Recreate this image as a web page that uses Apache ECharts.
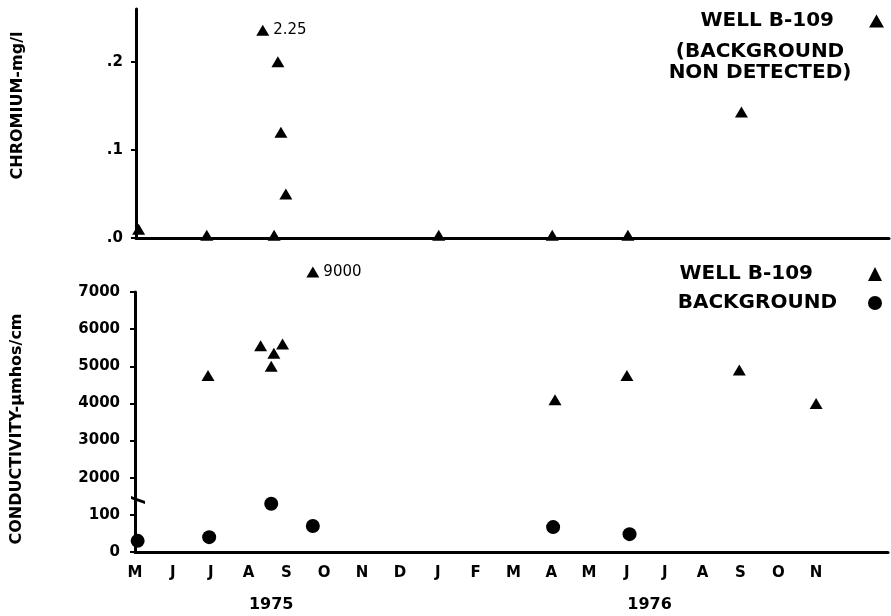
<!DOCTYPE html>
<html>
<head>
<meta charset="utf-8">
<title>Well B-109 chromium and conductivity</title>
<script src="https://cdn.jsdelivr.net/npm/echarts@6/dist/echarts.min.js"></script>
<style>
  html, body { margin: 0; padding: 0; background: #fff; }
  #chart { width: 891px; height: 616px; }
</style>
</head>
<body>
<div id="chart"></div>
<script>
// x values are months counted from May 1975 (0 = M, 1 = J, ...)
const MONTHS = ['M', 'J', 'J', 'A', 'S', 'O', 'N', 'D', 'J', 'F', 'M', 'A', 'M', 'J', 'J', 'A', 'S', 'O', 'N']
const YEARS = ['1975', '1976']
const YEAR_POS = [3.6, 13.6]

// chromium, mg/l (well B-109 only, background not detected)
const CR_MONTH = [0.07, 1.87, 3.35, 3.65, 3.75, 3.83, 3.96, 8.0, 11.0, 13.0, 16.0]
const CR_VALUE = [0.01, 0.003, 2.25, 0.003, 0.2, 0.12, 0.05, 0.003, 0.003, 0.003, 0.143]

// conductivity, umhos/cm
const WELL_MONTH = [1.93, 3.32, 3.6, 3.67, 3.9, 4.7, 11.1, 13.0, 15.97, 18.0]
const WELL_COND = [4750, 5550, 5000, 5350, 5600, 9000, 4100, 4750, 4900, 4000]
const BG_MONTH = [0.07, 1.96, 3.6, 4.7, 11.05, 13.07]
const BG_COND = [30, 40, 130, 70, 67, 48]

// broken conductivity axis: 0-100 on the bottom step, then 2000-7000
const COND_TICKS = ['0', '100', '2000', '3000', '4000', '5000', '6000', '7000']

const CR_MAX = 0.26
const CR_OFFSCALE = 0.236
const COND_MAX = 7
const COND_OFFSCALE = 7.54
const BREAK_AT = 1.4

const condToAxis = (v) => {
  if (v <= 150) return v / 100
  if (v > 7000) return COND_OFFSCALE
  return v / 1000
}

const font = 'DejaVu Sans'
const ink = '#000'

const offLabel = (text) => ({
  show: true,
  position: 'right',
  distance: 4,
  formatter: text,
  color: ink,
  fontSize: 15,
  fontFamily: font,
})

const crData = CR_MONTH.map((m, i) => {
  const v = CR_VALUE[i]
  if (v > CR_MAX) return { value: [m, CR_OFFSCALE], label: offLabel(String(v)) }
  return [m, v]
})
const wellData = WELL_MONTH.map((m, i) => {
  const v = WELL_COND[i]
  if (v > 7000) return { value: [m, condToAxis(v)], label: offLabel(String(v)) }
  return [m, condToAxis(v)]
})
const bgData = BG_MONTH.map((m, i) => [m, condToAxis(BG_COND[i])])

const xAxisBase = {
  type: 'value',
  min: 0,
  max: 19.9,
  interval: 1,
  splitLine: { show: false },
  axisTick: { show: false },
  axisLine: { show: true, onZero: false, lineStyle: { color: ink, width: 3 } },
}

const yAxisBase = {
  type: 'value',
  min: 0,
  splitLine: { show: false },
  axisLine: { show: true, lineStyle: { color: ink, width: 3 } },
  axisTick: { show: true, length: 5, lineStyle: { color: ink, width: 2 } },
  nameLocation: 'middle',
  nameRotate: 90,
  nameGap: 110,
}

const tickLabel = {
  margin: 15,
  fontSize: 15,
  fontWeight: 'bold',
  color: ink,
  fontFamily: font,
}

const legendText = { fontSize: 20, fontWeight: 'bold', color: ink, fontFamily: font }

const chart = echarts.init(document.getElementById('chart'))

const option = {
  animation: false,
  backgroundColor: '#fff',
  textStyle: { fontFamily: font, color: ink },
  grid: [
    { left: 136, right: 2, top: 9, height: 229 },
    { left: 135, right: 2, top: 292, height: 260 },
  ],
  xAxis: [
    { ...xAxisBase, gridIndex: 0, axisLabel: { show: false } },
    {
      ...xAxisBase,
      gridIndex: 1,
      axisLabel: {
        margin: 14,
        fontSize: 15,
        fontWeight: 'bold',
        color: ink,
        fontFamily: font,
        formatter: (v) => MONTHS[Math.round(v)] || '',
      },
    },
  ],
  yAxis: [
    {
      ...yAxisBase,
      gridIndex: 0,
      max: CR_MAX,
      interval: 0.1,
      name: 'CHROMIUM-mg/l',
      nameTextStyle: { fontSize: 16, fontWeight: 'bold', color: ink, fontFamily: font, padding: [0, 0, 0, 36] },
      axisLabel: {
        ...tickLabel,
        margin: 13,
        showMaxLabel: false,
        formatter: (v) => '.' + Math.round(v * 10),
      },
    },
    {
      ...yAxisBase,
      gridIndex: 1,
      max: COND_MAX,
      interval: 1,
      name: 'CONDUCTIVITY-µmhos/cm',
      nameTextStyle: { fontSize: 16, fontWeight: 'bold', color: ink, fontFamily: font, padding: [0, 14, 0, 0] },
      axisLabel: {
        ...tickLabel,
        formatter: (v) => COND_TICKS[Math.round(v)] || '',
      },
    },
  ],
  legend: [
    {
      right: 2,
      top: 6,
      orient: 'vertical',
      align: 'right',
      itemWidth: 15,
      itemHeight: 13,
      textStyle: { ...legendText, padding: [0, 30, 0, 0] },
      data: [{ name: 'WELL B-109', icon: 'triangle' }],
    },
    {
      right: 4,
      top: 259,
      orient: 'vertical',
      align: 'right',
      itemGap: 9,
      itemWidth: 14,
      itemHeight: 14,
      textStyle: legendText,
      data: [
        { name: 'WELL B-109', icon: 'triangle', textStyle: { padding: [0, 50, 0, 0] } },
        { name: 'BACKGROUND', icon: 'circle', textStyle: { padding: [0, 26, 0, 0] } },
      ],
    },
  ],
  series: [
    {
      name: 'WELL B-109',
      type: 'scatter',
      xAxisIndex: 0,
      yAxisIndex: 0,
      symbol: 'triangle',
      symbolSize: [13, 11],
      clip: false,
      itemStyle: { color: ink, opacity: 1 },
      data: crData,
    },
    {
      name: 'WELL B-109',
      type: 'scatter',
      xAxisIndex: 1,
      yAxisIndex: 1,
      symbol: 'triangle',
      symbolSize: [13, 11],
      clip: false,
      itemStyle: { color: ink, opacity: 1 },
      data: wellData,
    },
    {
      name: 'BACKGROUND',
      type: 'scatter',
      xAxisIndex: 1,
      yAxisIndex: 1,
      symbol: 'circle',
      symbolSize: 14,
      clip: false,
      itemStyle: { color: ink, opacity: 1 },
      data: bgData,
    },
    {
      name: 'axis break',
      type: 'scatter',
      xAxisIndex: 1,
      yAxisIndex: 1,
      silent: true,
      clip: false,
      symbol: 'path://M0,0 L14,5 L14,8 L0,3 Z',
      symbolSize: [14, 8],
      symbolOffset: [3, 0],
      itemStyle: { color: ink, opacity: 1 },
      data: [[0, BREAK_AT]],
    },
  ],
}

chart.setOption(option)

// year captions under the month labels and the note under the top legend
const yearText = YEARS.map((y, i) => ({
  type: 'text',
  x: chart.convertToPixel({ xAxisIndex: 1 }, YEAR_POS[i]),
  y: 605,
  style: {
    text: y,
    align: 'center',
    verticalAlign: 'middle',
    fontSize: 16,
    fontWeight: 'bold',
    fontFamily: font,
    fill: ink,
  },
}))

chart.setOption({
  graphic: [
    ...yearText,
    {
      type: 'text',
      x: 760,
      y: 62,
      style: {
        text: '(BACKGROUND\nNON DETECTED)',
        align: 'center',
        verticalAlign: 'middle',
        lineHeight: 21,
        fontSize: 20,
        fontWeight: 'bold',
        fontFamily: font,
        fill: ink,
      },
    },
  ],
})

window.addEventListener('resize', () => chart.resize())
</script>
</body>
</html>
